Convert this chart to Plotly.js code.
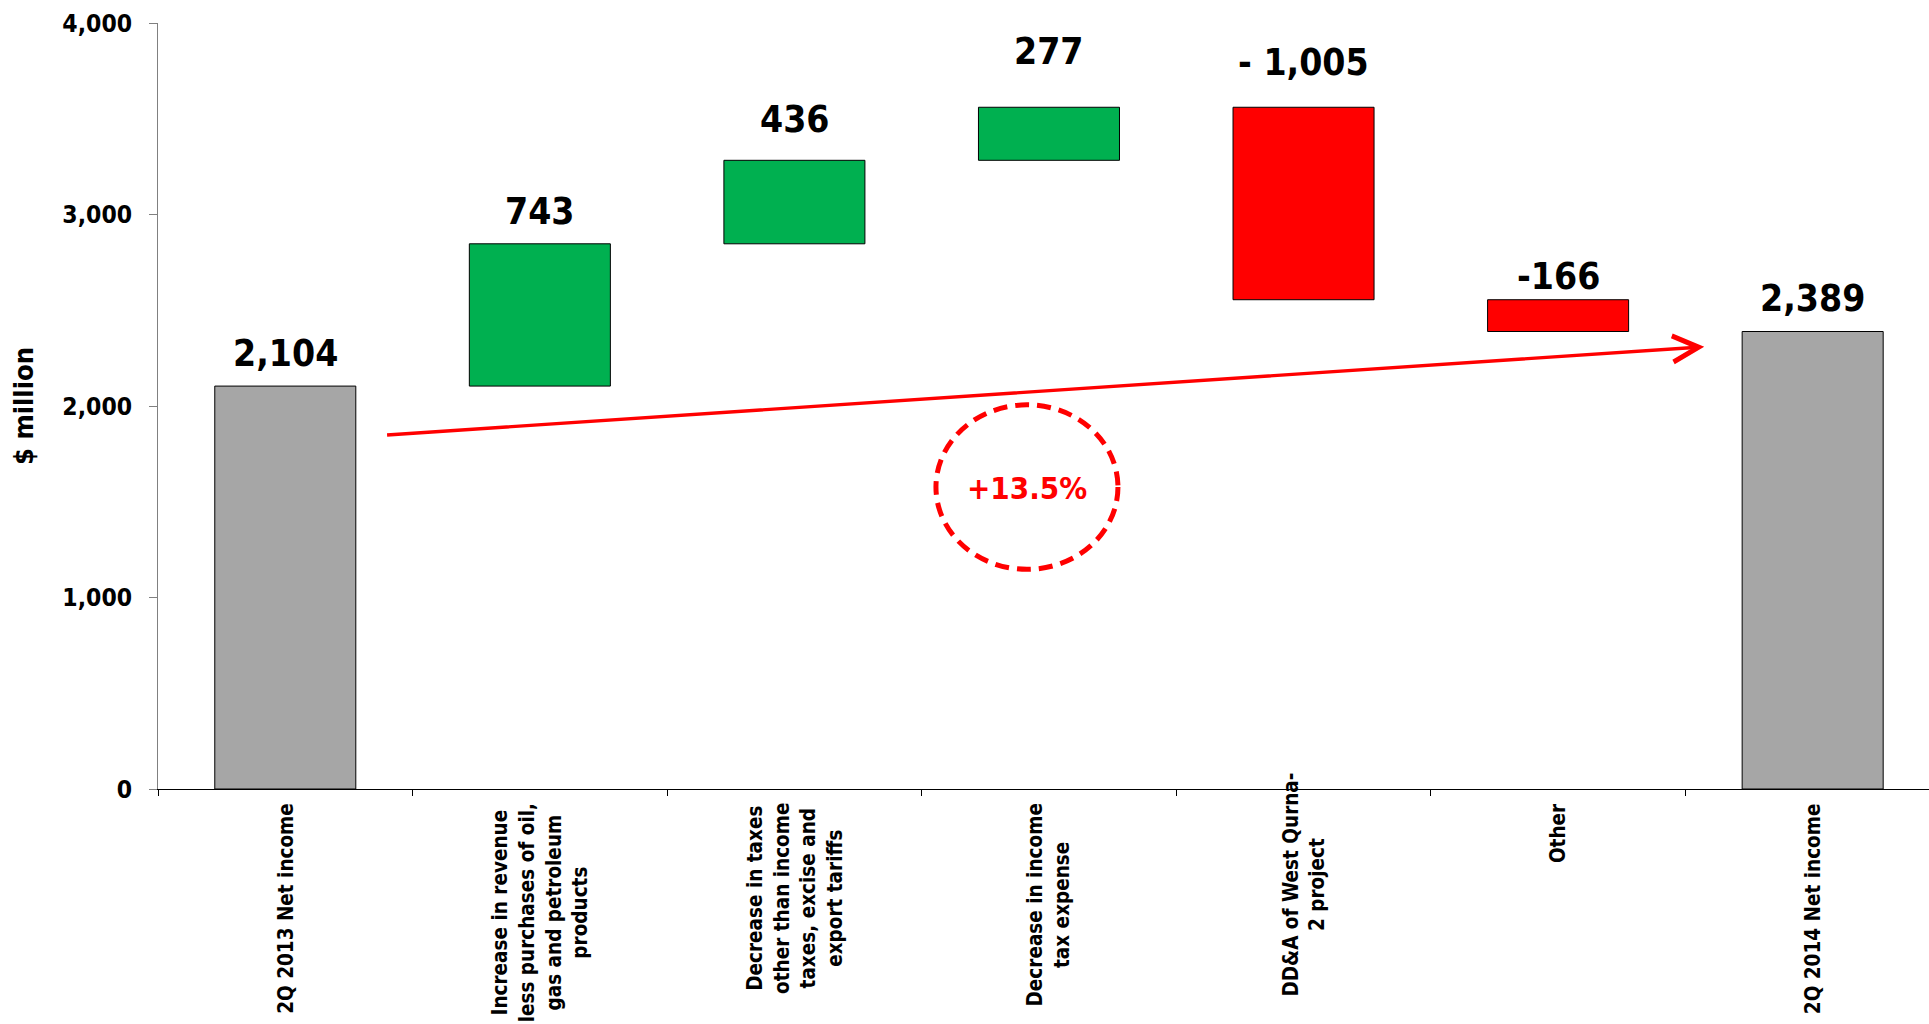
<!DOCTYPE html>
<html>
<head>
<meta charset="utf-8">
<script src="https://cdn.plot.ly/plotly-3.0.1.min.js"></script>
<style>html,body{margin:0;padding:0;background:#fff;}#chart{width:1929px;height:1024px;}</style>
</head>
<body>
<div id="chart"></div>
<script>
// ---- data ----
const categories = ["2Q 2013 Net income", "Revenue less purchases", "Taxes other than income", "Income tax expense", "DD&A West Qurna-2", "Other", "2Q 2014 Net income"];
const categoryLabels = [
  "2Q 2013 Net income",
  "Increase in revenue<br>less purchases of oil,<br>gas and petroleum<br>products",
  "Decrease in taxes<br>other than income<br>taxes, excise and<br>export tariffs",
  "Decrease in income<br>tax expense",
  "DD&A of West Qurna-<br>2 project",
  "Other",
  "2Q 2014 Net income"
];
const values = [2104, 743, 436, 277, -1005, -166, 2389];
const measures = ["absolute", "relative", "relative", "relative", "relative", "relative", "absolute"];
const valueLabels = ["2,104", "743", "436", "277", "- 1,005", "-166", "2,389"];
const changeLabel = "+13.5%";
const yTitle = "$ million";

// ---- styling ----
const FONT = "DejaVu Sans Condensed, DejaVu Sans, sans-serif";
const labelLift = [9, 9, 17, 32, 21, 0, 10];      // px above bar top
const catShift = [0, 0, 0, 0, 30, 0, 0];           // px shift of category label blocks

// bar tops from cumulative values
const tops = [];
let run = 0;
values.forEach((v, i) => {
  if (measures[i] === "absolute") { run = v; tops.push(v); }
  else { const start = run; run += v; tops.push(Math.max(start, run)); }
});

const trace = {
  type: "waterfall",
  x: categories,
  y: values,
  measure: measures,
  connector: { visible: false },
  increasing: { marker: { color: "#00B050", line: { color: "#000000", width: 1 } } },
  decreasing: { marker: { color: "#FF0000", line: { color: "#000000", width: 1 } } },
  totals: { marker: { color: "#A6A6A6", line: { color: "#000000", width: 1 } } },
  hoverinfo: "skip",
  showlegend: false
};

const annotations = [];
categories.forEach((c, i) => {
  annotations.push({
    x: c, xref: "x", y: tops[i], yref: "y",
    text: valueLabels[i], showarrow: false,
    xanchor: "center", yanchor: "bottom", yshift: labelLift[i],
    font: { family: FONT, size: 37, color: "#000", weight: "bold" }
  });
  annotations.push({
    x: c, xref: "x", y: 0, yref: "paper",
    text: categoryLabels[i], showarrow: false, textangle: -90, align: "center",
    xanchor: "center", yanchor: "top", yshift: -12 + catShift[i],
    font: { family: FONT, size: 20.5, color: "#000", weight: "bold" }
  });
});
// growth arrow
annotations.push({
  x: 5.574, y: 2309, xref: "x", yref: "y",
  ax: 0.394, ay: 1848, axref: "x", ayref: "y",
  showarrow: true, arrowhead: 5, arrowsize: 1.5, arrowwidth: 3.4, arrowcolor: "#FF0000",
  text: ""
});
annotations.push({
  x: 2.914, y: 1571, xref: "x", yref: "y",
  text: changeLabel, showarrow: false, xanchor: "center", yanchor: "middle",
  font: { family: FONT, size: 31, color: "#FF0000", weight: "bold" }
});

const layout = {
  width: 1929, height: 1024,
  margin: { l: 158, r: 0, t: 23, b: 235, pad: 0 },
  paper_bgcolor: "#ffffff", plot_bgcolor: "#ffffff",
  font: { family: FONT, color: "#000" },
  waterfallgap: 0.446,
  xaxis: {
    type: "category", range: [-0.5, 6.457],
    showticklabels: false, showgrid: false, zeroline: false,
    showline: true, linecolor: "#000000", linewidth: 1,
    ticks: "outside", tickson: "boundaries", ticklen: 6, tickcolor: "#000000", tickwidth: 1,
    fixedrange: true
  },
  yaxis: {
    range: [0, 4000], dtick: 1000, tickformat: ",",
    showgrid: false, zeroline: false,
    showline: true, linecolor: "#808080", linewidth: 1,
    ticks: "outside", ticklen: 8, tickcolor: "#808080", tickwidth: 1,
    ticklabelstandoff: 12,
    tickfont: { family: FONT, size: 24.5, color: "#000", weight: "bold" },
    title: { text: yTitle, standoff: 20, font: { family: FONT, size: 27, color: "#000", weight: "bold" } },
    automargin: false, fixedrange: true
  },
  shapes: [{
    type: "circle", xref: "x", yref: "y",
    x0: 2.556, x1: 3.271, y0: 1147, y1: 2006,
    line: { color: "#FF0000", width: 5, dash: "14px,8px" },
    fillcolor: "rgba(0,0,0,0)"
  }],
  annotations: annotations
};

Plotly.newPlot("chart", [trace], layout, { staticPlot: true, displayModeBar: false });
</script>
</body>
</html>
